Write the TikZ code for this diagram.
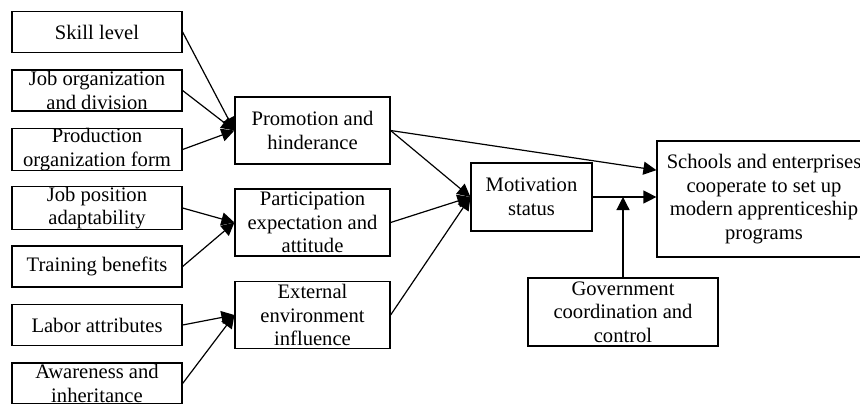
\documentclass[tikz,border=0pt]{standalone}
\usepackage{fontspec}
\setmainfont{Liberation Serif}
\usetikzlibrary{arrows.meta}

\begin{document}
\begin{tikzpicture}[
				x=0.5pt, y=-0.5pt,
				factor/.style={rectangle,draw,minimum width=85pt,minimum height=20.5pt,align=center},
				group/.style={rectangle,draw,minimum width=77.5pt,minimum height=33.5pt,align=center},
				motive/.style={rectangle,draw,minimum width=60.5pt,minimum height=34pt,align=center},
				goal/.style={rectangle,draw,minimum width=107pt,minimum height=58pt,align=center},
				ctrl/.style={rectangle,draw,minimum width=95pt,minimum height=34pt,align=center},
				arr/.style={-{Triangle[length=6.5pt,width=6.5pt]},line width=0.6pt},
				font=\fontsize{10.3}{11.8}\selectfont,
				line width=0.6pt,
				inner sep=0pt]
				\useasboundingbox (0,0) rectangle (860,403);
				\node [factor]	(skill)		at (97,32)		{Skill level};
				\node [factor]	(joborg)	at (97,90.5)	{Job organization\\and division};
				\node [factor]	(prodorg)	at (97,149.5)	{Production\\organization form};
				\node [factor]	(jobpos)	at (97,208)		{Job position\\adaptability};
				\node [factor]	(training)	at (97,266.5)	{Training benefits};
				\node [factor]	(labor)		at (97,325)		{Labor attributes};
				\node [factor]	(aware)		at (97,383.5)	{Awareness and\\inheritance};
				\node [group]	(promo)		at (312.5,130.5)	{Promotion and\\hinderance};
				\node [group]	(partic)	at (312.5,222.5)	{Participation\\expectation and\\attitude};
				\node [group]	(extern)	at (312.5,315)	{External\\environment\\influence};
				\node [motive]	(motiv)		at (531.5,197)	{Motivation\\status};
				\node [goal]	(schools)	at (764,199)	{Schools and enterprises\\cooperate to set up\\modern apprenticeship\\programs};
				\node [ctrl]	(govt)		at (623,312)	{Government\\coordination and\\control};
				\coordinate (junc) at (govt.north |- motiv.east);
				\draw [arr] (skill.east) -- (promo.west);
				\draw [arr] (joborg.east) -- (promo.west);
				\draw [arr] (prodorg.east) -- (promo.west);
				\draw [arr] (jobpos.east) -- (partic.west);
				\draw [arr] (training.east) -- (partic.west);
				\draw [arr] (labor.east) -- (extern.west);
				\draw [arr] (aware.east) -- (extern.west);
				\draw [arr] (promo.east) -- (motiv.west);
				\draw [arr] (partic.east) -- (motiv.west);
				\draw [arr] (extern.east) -- (motiv.west);
				\draw [arr] (promo.east) -- (schools.165);
				\draw [arr] (motiv.east) -- (motiv.east -| schools.west);
				\draw [arr] (govt.north) -- (junc);
			\end{tikzpicture}
\end{document}
